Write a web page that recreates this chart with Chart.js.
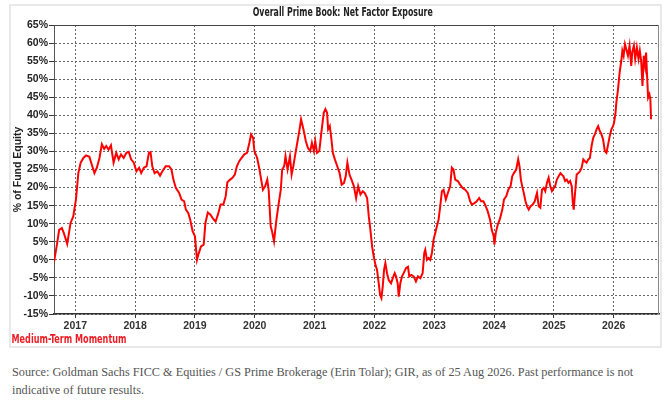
<!DOCTYPE html>
<html>
<head>
<meta charset="utf-8">
<script src="https://cdn.jsdelivr.net/npm/chart.js@4.4.1/dist/chart.umd.min.js"></script>
<style>
  html, body { margin: 0; padding: 0; background: #ffffff; }
  body { width: 669px; height: 400px; position: relative; overflow: hidden; }
  #panel { position: absolute; left: 9px; top: 4px; width: 653px; height: 344px; box-sizing: border-box; border: 2px solid #e9e9e9; }
  #wrap { position: absolute; left: 0; top: 0; width: 669px; height: 350px; }
  #source { position: absolute; left: 12px; top: 363px; font-family: 'Liberation Serif', 'DejaVu Serif', serif; font-size: 12.25px; line-height: 18px; color: #555; white-space: nowrap; }
</style>
</head>
<body>
<div id="panel"></div>
<div id="wrap"><canvas id="c" width="669" height="350"></canvas></div>
<div id="source">Source: Goldman Sachs FICC &amp; Equities / GS Prime Brokerage (Erin Tolar); GIR, as of 25 Aug 2026. Past performance is not<br>indicative of future results.</div>
<script>
const chartTitle = 'Overall Prime Book: Net Factor Exposure';
const yAxisTitle = '% of Fund Equity';
const seriesName = 'Medium-Term Momentum';
const yearTicks = [2017, 2018, 2019, 2020, 2021, 2022, 2023, 2024, 2025, 2026];

const dates = [
  2016.645,2016.697,2016.730,2016.775,2016.809,2016.865,2016.921,2016.966,2017.011,2017.051,2017.090,2017.135,2017.180,2017.236,2017.275,2017.320,2017.360,2017.404,2017.444,2017.483,2017.517,2017.556,2017.596,2017.640,2017.685,2017.725,2017.764,2017.809,2017.854,2017.893,2017.933,2017.978,2018.022,2018.067,2018.101,2018.146,2018.191,2018.230,2018.258,2018.287,2018.326,2018.371,2018.416,2018.455,2018.511,2018.567,2018.607,2018.640,2018.680,2018.736,2018.775,2018.820,2018.848,2018.888,2018.921,2018.961,2019.000,2019.034,2019.056,2019.101,2019.146,
  2019.175,2019.215,2019.260,2019.305,2019.345,2019.384,2019.429,2019.475,2019.514,2019.542,2019.588,2019.627,2019.667,2019.701,2019.740,2019.780,2019.825,2019.870,2019.910,2019.938,2019.972,2019.994,2020.040,2020.079,2020.107,2020.136,2020.175,2020.209,2020.232,2020.266,2020.288,2020.322,2020.362,2020.401,2020.435,2020.458,2020.492,2020.514,2020.548,2020.588,2020.616,2020.644,2020.672,2020.701,2020.740,2020.774,2020.814,2020.853,2020.887,2020.927,2020.955,2020.989,2021.011,2021.040,2021.079,2021.113,2021.153,2021.181,2021.209,2021.226,2021.254,2021.282,2021.305,2021.339,2021.379,2021.418,2021.452,2021.492,2021.520,2021.548,
  2021.583,2021.617,2021.656,2021.694,2021.728,2021.767,2021.806,2021.839,2021.878,2021.906,2021.933,2021.961,2021.989,2022.017,2022.044,2022.072,2022.094,2022.117,2022.139,2022.161,2022.183,2022.211,2022.239,2022.278,2022.306,2022.339,2022.361,2022.389,2022.406,2022.433,2022.461,2022.489,2022.528,2022.561,2022.583,2022.617,2022.656,2022.694,2022.728,2022.767,2022.806,2022.833,2022.850,2022.878,2022.906,2022.933,2022.961,2022.989,2023.017,2023.044,2023.072,2023.100,2023.128,2023.156,2023.194,2023.228,2023.267,2023.294,2023.322,2023.350,2023.394,2023.433,2023.472,2023.517,2023.561,2023.600,2023.628,2023.672,2023.711,2023.750,2023.783,2023.822,2023.850,2023.894,2023.933,2023.961,2023.994,2024.006,2024.028,2024.061,
  2024.094,2024.138,2024.166,2024.204,2024.238,2024.276,2024.304,2024.331,2024.370,2024.403,2024.425,2024.448,2024.470,2024.497,2024.525,2024.552,2024.580,2024.608,2024.646,2024.680,2024.718,2024.746,2024.773,2024.801,2024.829,2024.856,2024.884,2024.912,2024.939,2024.967,2025.000,2025.022,2025.050,2025.077,2025.110,2025.133,2025.160,2025.188,2025.215,2025.243,2025.271,2025.298,2025.315,2025.331,2025.354,2025.381,2025.409,2025.436,2025.464,2025.492,2025.519,2025.547,2025.575,2025.602,2025.630,2025.657,2025.685,2025.713,2025.740,2025.768,2025.796,2025.823,2025.851,2025.878,2025.906,2025.934,2025.961,2025.989,2026.006,2026.028,2026.044,2026.072,2026.099,2026.127,2026.144,2026.166,2026.188,2026.210,2026.238,2026.265,2026.293,2026.309,2026.337,2026.359,2026.387,2026.414,2026.436,2026.459,2026.481,2026.503,2026.525,2026.541,2026.558,2026.575,2026.597,2026.613,2026.624
];

const exposure = [
  -0.5,4.6,8.3,8.8,7.4,4.4,10.2,12,16.7,24,26.9,28.2,28.9,28.5,26.4,24,25.5,28.2,32,30.7,31.5,30.5,31.7,26.9,29.6,27.8,29.2,28.2,29.6,29.9,27.8,26.9,24.5,25.5,24,25.5,25.9,29.6,29.8,25.9,24,24.5,23.3,24.5,25.9,25.9,25,22.2,19.9,18.5,16.7,16.2,13.9,13,11.1,7.9,6.5,0,1.4,3.7,4.2,
  10.2,13.1,12.5,11.3,10.6,12.5,15.3,15.3,17.6,21.5,22.2,22.7,23.6,25.9,27.3,28.2,29.2,29.6,32.4,34.7,33.8,30.1,28.2,25,22.2,19.4,20.4,22.2,19.4,9.3,7.9,5.1,11.1,15.7,19.4,25,25.9,28.7,25,28.7,23.6,25.9,28.7,31.5,35.2,38.9,36.1,32.9,31,30.1,32.4,30.1,32.9,29.6,30.1,35.2,40.7,41.7,40.7,36.1,37,33.3,29.6,27.8,25.9,24,20.8,21.3,23.1,26.9,
  23.6,22.2,20.4,17.1,20.4,18.1,19,18.5,17.1,12,8.3,3.7,0.9,-1.4,-2.8,-6.5,-9.7,-10.6,-7.4,-2.8,-0.9,-3.7,-5.6,-6.5,-5.1,-3.7,-4.6,-6.5,-10.2,-6.5,-4.6,-3.7,-2.3,-1.9,-4.6,-4.2,-4.6,-6,-4.6,-5.1,-3.7,1.9,2.8,0,0.5,0,1.9,5.6,7.4,9.3,11.1,14.8,19,19.4,16.7,18.5,20.4,25.5,25,22.2,21.8,20.8,19.9,19.4,18.5,16.2,15.3,15.7,16.2,17.1,16.2,16.2,15.3,13.4,11.1,8.3,6.5,4.2,7.4,9.7,
  11.1,13.9,16.7,17.6,19.4,20.4,23.1,24,25,27.8,25.9,22.2,20.4,18.5,16.2,14.8,13.9,14.8,15.3,16.2,18.5,14.8,14.4,19.4,19.9,19,21.3,22.7,20.4,19,19.9,20.4,22.2,23.1,24,23.6,23.1,21.8,22.2,21.3,21.8,20.4,16.2,13.9,18.5,23.6,24,24.5,25.5,27.8,27.3,26.9,27.8,28.2,31.5,33.8,34.7,36.1,37,35.6,34.7,33.3,30.1,29.6,31.9,34.3,36.1,37,38,40.3,43.5,47.2,51.9,55.1,57.9,56.5,59.7,58.3,56.5,59.3,53.7,57.4,59.3,55.6,58.8,55.6,57.9,55.1,48.1,56.5,53.7,57.4,50.9,44.9,45.8,44.4,38.9
];

const COND = "'DejaVu Sans Condensed', 'Liberation Sans', sans-serif";
const SANS = "'Liberation Sans', Arial, sans-serif";

const n = Math.min(dates.length, exposure.length);
const points = [];
for (let i = 0; i < n; i++) points.push({ x: dates[i], y: exposure[i] });

function fitText(ctx, text, x, y, targetWidth, align) {
  const w = ctx.measureText(text).width;
  const s = w > 0 ? targetWidth / w : 1;
  ctx.save();
  ctx.translate(x, y);
  ctx.scale(s, 1);
  ctx.textAlign = align;
  ctx.fillText(text, 0, 0);
  ctx.restore();
}

const decor = {
  id: 'decor',
  afterDraw(chart) {
    const ctx = chart.ctx;
    const a = chart.chartArea;
    ctx.save();
    ctx.strokeStyle = '#444';
    ctx.lineWidth = 1;
    ctx.beginPath();
    ctx.moveTo(a.left, Math.round(a.top) + 0.5);
    ctx.lineTo(a.right, Math.round(a.top) + 0.5);
    ctx.stroke();
    ctx.strokeStyle = '#888';
    ctx.beginPath();
    ctx.moveTo(Math.round(a.right) - 0.5, a.top);
    ctx.lineTo(Math.round(a.right) - 0.5, a.bottom);
    ctx.stroke();
    ctx.textBaseline = 'middle';
    ctx.fillStyle = '#222';
    ctx.font = 'bold 12px ' + COND;
    fitText(ctx, chartTitle, 342.7, 12.5, 180, 'center');
    ctx.fillStyle = '#ee1c25';
    ctx.font = 'bold 13px ' + COND;
    fitText(ctx, seriesName, 11.5, 340, 115, 'left');
    ctx.restore();
  }
};

new Chart(document.getElementById('c'), {
  type: 'line',
  data: {
    datasets: [{
      label: seriesName,
      data: points,
      borderColor: '#ff0000',
      borderWidth: 2,
      pointRadius: 0,
      tension: 0,
      fill: false
    }]
  },
  options: {
    responsive: false,
    animation: false,
    devicePixelRatio: 1,
    layout: { padding: { left: 10, right: 10, top: 25, bottom: 0 } },
    plugins: { legend: { display: false }, tooltip: { enabled: false }, title: { display: false } },
    scales: {
      x: {
        type: 'linear',
        min: 2016.644,
        max: 2026.757,
        afterBuildTicks(axis) { axis.ticks = yearTicks.map(v => ({ value: v })); },
        afterFit(axis) { axis.height = 36; },
        ticks: {
          autoSkip: false,
          maxRotation: 0,
          padding: 2,
          color: '#333',
          font: { family: SANS, size: 10.5, weight: 'bold' },
          callback: (v) => String(v)
        },
        grid: { color: '#666', lineWidth: 1, tickLength: 4, tickColor: '#333', tickWidth: 1 },
        border: { display: true, color: '#333', width: 1.5, dash: [2, 2] }
      },
      y: {
        type: 'linear',
        min: -15,
        max: 65,
        afterFit(axis) { axis.width = 44; },
        ticks: {
          stepSize: 5,
          padding: 1,
          color: '#222',
          font: { family: SANS, size: 10.5, weight: 'bold' },
          callback: (v) => v + '%'
        },
        title: {
          display: true,
          text: yAxisTitle,
          color: '#222',
          font: { family: SANS, size: 10.5, weight: 'bold' },
          padding: { top: 2, bottom: 0 }
        },
        grid: { color: '#666', lineWidth: 1, tickLength: 5, tickColor: '#333', tickWidth: 1 },
        border: { display: true, color: '#555', width: 1, dash: [2, 2] }
      }
    }
  },
  plugins: [decor]
});
</script>
</body>
</html>
